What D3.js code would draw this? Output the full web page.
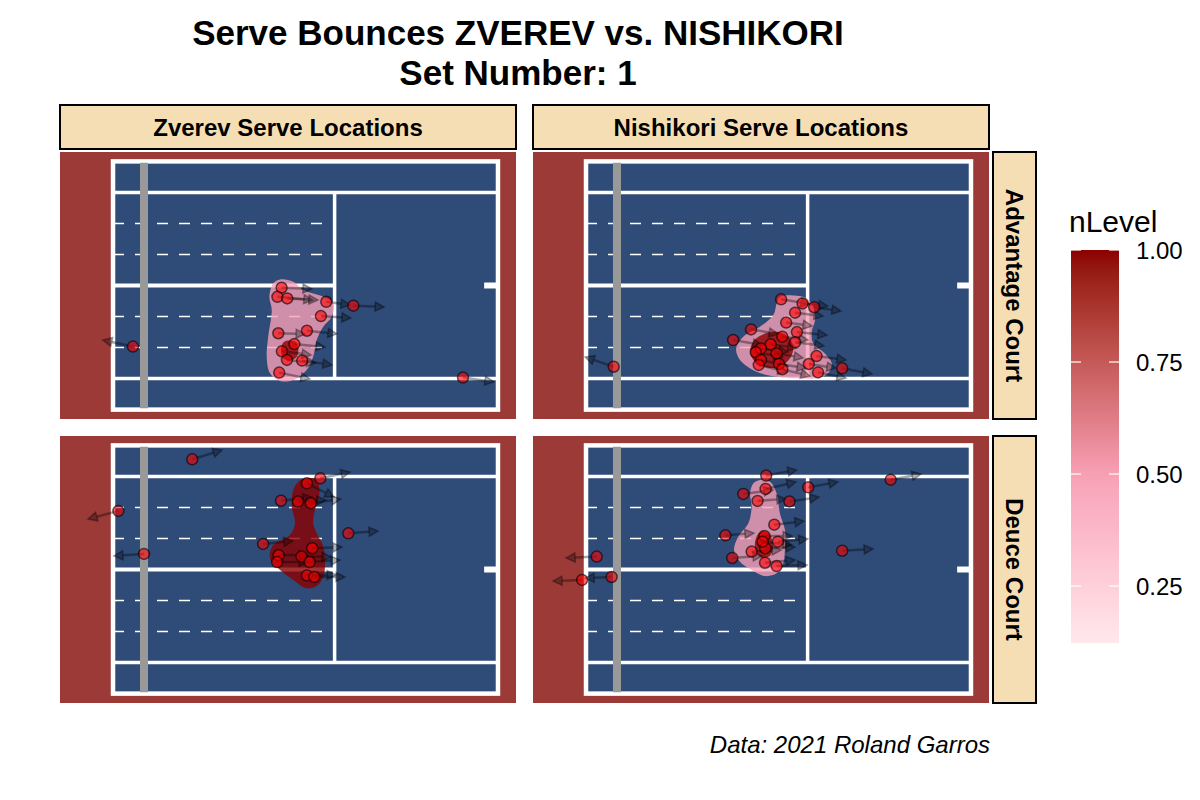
<!DOCTYPE html>
<html><head><meta charset="utf-8">
<script src="https://cdn.jsdelivr.net/npm/d3@7"></script>
<style>body{margin:0;background:#fff}</style>
</head><body>
<svg id="chart" width="1200" height="800"></svg>
<script>
// ---------------- DATA (metres; x = distance from net, y = across court) ----------------
const titleLines = ["Serve Bounces ZVEREV vs. NISHIKORI", "Set Number: 1"];
const caption = "Data: 2021 Roland Garros";
const colLabels = ["Zverev Serve Locations", "Nishikori Serve Locations"];
const rowLabels = ["Advantage Court", "Deuce Court"];
const legendTitle = "nLevel";
const legendTicks = [0.25, 0.50, 0.75, 1.00];
const nLevelRange = [0.123, 1.0];

// serve bounce points: [x, y, xAfter, yAfter]
const zverevAd = [
  [4.62,-0.10, 5.64,-0.15],[4.48,-0.50, 5.67,-0.64],[4.81,-0.57, 5.84,-0.64],
  [6.12,-0.72, 6.92,-0.86],[7.03,-0.89, 8.06,-0.95],[5.94,-1.35, 6.95,-1.44],
  [4.51,-2.11, 5.41,-2.14],[5.47,-2.00, 6.48,-2.14],[5.05,-2.59, 6.08,-2.72],
  [4.63,-2.91, 5.61,-3.07],[4.80,-3.29, 5.77,-3.43],[5.31,-3.32, 6.31,-3.51],
  [4.54,-3.85, 5.57,-4.13],[-0.37,-2.70,-1.38,-2.41],[10.71,-4.07,11.75,-4.26]
];
const nishikoriAd = [
  [5.51,-0.61, 6.48,-0.82],[6.23,-0.79, 7.08,-0.91],[6.62,-0.96, 7.52,-1.13],
  [5.98,-1.20, 6.92,-1.35],[5.68,-1.64, 6.55,-1.79],[4.50,-1.94, 5.41,-2.14],
  [6.04,-2.06, 7.05,-2.19],[3.90,-2.41, 4.87,-2.63],[5.55,-2.26, 6.41,-2.41],
  [5.98,-2.51, 6.95,-2.67],[5.16,-2.60, 6.04,-2.76],[4.83,-2.78, 5.74,-2.94],
  [4.66,-2.95, 5.57,-3.16],[5.36,-3.00, 6.25,-3.20],[4.83,-3.29, 5.74,-3.56],
  [4.76,-3.51, 5.71,-3.82],[5.44,-3.47, 6.35,-3.65],[5.55,-3.70, 6.48,-4.00],
  [6.70,-3.12, 7.69,-3.29],[6.44,-3.47, 7.35,-3.65],[6.75,-3.84, 7.69,-4.09],
  [7.56,-3.66, 8.56,-3.91],[-0.11,-3.59,-1.07,-3.16]
];
const zverevDeuce = [
  [1.62,4.87, 2.62,5.28],[5.92,4.03, 6.92,4.31],[5.47,3.81, 6.38,3.20],
  [4.60,3.04, 5.64,3.20],[5.17,3.00, 6.11,3.07],[5.60,2.93, 6.61,3.12],
  [-0.86,2.59,-1.88,2.23],[6.86,1.60, 7.86,1.70],[4.00,1.13, 5.00,1.26],
  [5.65,0.94, 6.65,0.99],[4.52,0.63, 5.51,0.64],[5.29,0.58, 6.28,0.55],
  [4.47,0.33, 5.51,0.33],[5.56,0.33, 6.58,0.42],[5.47,-0.26, 6.45,-0.24],
  [5.72,-0.33, 6.75,-0.33],[0.00,0.69,-1.01,0.60]
];
const nishikoriDeuce = [
  [5.01,4.15, 6.04,4.40],[4.99,3.56, 6.01,3.87],[4.24,3.34, 5.24,3.51],
  [6.42,3.63, 7.42,3.87],[4.72,3.03, 5.67,3.12],[5.79,3.01, 6.78,3.20],
  [9.19,3.97,10.21,4.22],[5.28,1.98, 6.28,2.14],[3.64,1.51, 4.60,1.61],
  [4.95,1.48, 5.88,1.48],[5.40,1.23, 6.41,1.35],[4.98,0.94, 5.98,0.99],
  [4.52,0.79, 5.51,0.86],[3.87,0.51, 4.87,0.60],[4.97,0.30, 5.98,0.42],
  [5.36,0.15, 6.38,0.20],[7.56,0.83, 8.60,0.91],[-0.68,0.57,-1.71,0.51],
  [-0.18,-0.33,-1.07,-0.38],[-1.17,-0.46,-2.15,-0.51],[4.89,1.23, 5.88,1.08]
];

// density contour outlines with their normalised level
const zverevAdContours = [
  {nlevel:0.5, path:[[4.57,0.27],[5.01,0.17],[5.35,-0.20],[6.02,-0.50],[6.36,-0.79],[6.30,-1.38],[6.02,-1.82],[5.80,-2.41],[5.68,-3.15],[5.46,-3.73],[5.01,-4.18],[4.57,-4.22],[4.23,-3.88],[4.12,-3.15],[4.17,-2.26],[4.29,-1.08],[4.21,-0.50],[4.34,0.10]]},
  {nlevel:1.0, path:[[4.79,-2.44],[5.07,-2.48],[5.18,-2.78],[5.13,-3.15],[4.90,-3.32],[4.68,-3.22],[4.60,-2.85],[4.66,-2.55]]}
];
const nishikoriAdContours = [
  {nlevel:0.5, path:[[5.47,-0.50],[6.03,-0.45],[6.37,-0.57],[6.59,-0.94],[6.65,-1.52],[6.54,-2.04],[6.59,-2.55],[6.98,-3.00],[7.21,-3.44],[7.09,-3.88],[6.70,-4.10],[6.03,-4.10],[5.36,-4.03],[4.69,-3.81],[4.13,-3.29],[4.00,-2.78],[4.24,-2.26],[4.80,-1.82],[5.25,-1.30],[5.36,-0.79]]},
  {nlevel:1.0, path:[[4.86,-2.19],[5.36,-2.04],[5.75,-2.26],[5.92,-2.70],[5.81,-3.22],[5.47,-3.59],[5.03,-3.62],[4.63,-3.37],[4.47,-2.93],[4.58,-2.48]]}
];
const zverevDeuceContours = [
  {nlevel:1.0, path:[[5.46,4.03],[5.80,3.96],[5.89,3.37],[5.74,2.63],[5.68,2.04],[5.80,1.60],[6.02,1.01],[6.08,0.27],[6.02,-0.32],[5.80,-0.73],[5.46,-0.83],[5.01,-0.46],[4.57,-0.02],[4.23,0.50],[4.34,1.08],[4.90,1.52],[5.07,2.04],[4.96,2.78],[5.01,3.51],[5.18,3.88]]}
];
const nishikoriDeuceContours = [
  {nlevel:0.5, path:[[4.80,3.96],[5.14,3.88],[5.36,3.37],[5.47,2.48],[5.64,1.75],[5.64,1.01],[5.58,0.27],[5.36,-0.17],[4.97,-0.29],[4.52,-0.02],[4.13,0.34],[3.93,0.86],[4.07,1.45],[4.41,2.04],[4.52,2.78],[4.47,3.37],[4.58,3.81]]},
  {nlevel:1.0, path:[[4.91,1.70],[5.14,1.52],[5.23,1.08],[5.16,0.64],[4.91,0.50],[4.69,0.72],[4.63,1.16],[4.74,1.57]]}
];

// court geometry (metres)
const courtBack = -1.04, baseline = 11.885, serviceLine = 6.40;
const doublesHalf = 5.485, singlesHalf = 4.115, netHalf = 5.42;
const laneLines = [1.372, 2.743, -1.372, -2.743];
const laneEnd = 6.14, centreMarkStart = 11.42;

// ---------------- LAYOUT ----------------
const colX = [60, 533], rowY = [152, 436], PW = 456, PH = 267;
const xDomain = [-2.82, 12.49], yDomain = [-5.9, 5.9];
const panels = [
  {r:0,c:0,pts:zverevAd,cont:zverevAdContours},
  {r:0,c:1,pts:nishikoriAd,cont:nishikoriAdContours},
  {r:1,c:0,pts:zverevDeuce,cont:zverevDeuceContours},
  {r:1,c:1,pts:nishikoriDeuce,cont:nishikoriDeuceContours}
];
const FONT = "'Liberation Sans', Arial, Helvetica, sans-serif";
const BG = "#9b3a37", COURT = "#2f4b77";

const fillScale = d3.scaleLinear().domain([0,0.5,1]).range(["white","#f8a0b6","darkred"]).interpolate(d3.interpolateLab);
const x = d3.scaleLinear().domain(xDomain).range([0, PW]);
const y = d3.scaleLinear().domain(yDomain).range([PH, 0]);

const svg = d3.select("#chart").style("font-family", FONT);
const defs = svg.append("defs");

// title
svg.append("text").attr("x",518).attr("y",45).attr("text-anchor","middle")
  .attr("font-size",35).attr("font-weight","bold").text(titleLines[0]);
svg.append("text").attr("x",518).attr("y",84.5).attr("text-anchor","middle")
  .attr("font-size",35).attr("font-weight","bold").text(titleLines[1]);

// column strips
colLabels.forEach((lab,i)=>{
  svg.append("rect").attr("x",colX[i]).attr("y",105).attr("width",PW).attr("height",44)
    .attr("fill","#f5deb3").attr("stroke","black").attr("stroke-width",2);
  svg.append("text").attr("x",colX[i]+PW/2).attr("y",136).attr("text-anchor","middle")
    .attr("font-size",24).attr("font-weight","bold").text(lab);
});
// row strips
rowLabels.forEach((lab,i)=>{
  svg.append("rect").attr("x",993).attr("y",rowY[i]).attr("width",43).attr("height",PH)
    .attr("fill","#f5deb3").attr("stroke","black").attr("stroke-width",2);
  svg.append("text").attr("transform",`translate(1014.5,${rowY[i]+PH/2}) rotate(90)`)
    .attr("text-anchor","middle").attr("dominant-baseline","central")
    .attr("font-size",24).attr("font-weight","bold").text(lab);
});

const line = d3.line().x(d=>x(d[0])).y(d=>y(d[1])).curve(d3.curveCatmullRomClosed.alpha(0.5));

panels.forEach((p,pi)=>{
  const g = svg.append("g").attr("transform",`translate(${colX[p.c]},${rowY[p.r]})`);
  defs.append("clipPath").attr("id","clip"+pi).append("rect").attr("width",PW).attr("height",PH);
  const gc = g.append("g").attr("clip-path",`url(#clip${pi})`);
  gc.append("rect").attr("width",PW).attr("height",PH).attr("fill",BG);
  // court
  gc.append("rect").attr("x",x(courtBack)).attr("y",y(doublesHalf))
    .attr("width",x(baseline)-x(courtBack)).attr("height",y(-doublesHalf)-y(doublesHalf))
    .attr("fill",COURT).attr("stroke","white").attr("stroke-width",4.5);
  [singlesHalf,-singlesHalf].forEach(s=>{
    gc.append("line").attr("x1",x(courtBack)).attr("x2",x(baseline)).attr("y1",y(s)).attr("y2",y(s))
      .attr("stroke","white").attr("stroke-width",3.5);
  });
  gc.append("line").attr("x1",x(serviceLine)).attr("x2",x(serviceLine)).attr("y1",y(singlesHalf)).attr("y2",y(-singlesHalf))
    .attr("stroke","white").attr("stroke-width",3.5);
  gc.append("line").attr("x1",x(courtBack)).attr("x2",x(serviceLine)).attr("y1",y(0)).attr("y2",y(0))
    .attr("stroke","white").attr("stroke-width",4);
  gc.append("line").attr("x1",x(centreMarkStart)).attr("x2",x(baseline)).attr("y1",y(0)).attr("y2",y(0))
    .attr("stroke","white").attr("stroke-width",6);
  laneLines.forEach(l=>{
    gc.append("line").attr("x1",x(courtBack)).attr("x2",x(laneEnd)).attr("y1",y(l)).attr("y2",y(l))
      .attr("stroke","white").attr("stroke-width",1.6).attr("stroke-dasharray","11,11");
  });
  gc.append("line").attr("x1",x(0)).attr("x2",x(0)).attr("y1",y(netHalf)).attr("y2",y(-netHalf))
    .attr("stroke","#999999").attr("stroke-width",8);
  // contours
  gc.selectAll("path.cont").data(p.cont).join("path").attr("class","cont")
    .attr("d",d=>line(d.path)).attr("fill",d=>fillScale(d.nlevel)).attr("fill-opacity",0.8);
  // arrows
  p.pts.forEach(d=>{
    const x1=x(d[0]), y1=y(d[1]), x2=x(d[2]), y2=y(d[3]);
    const ang=Math.atan2(y2-y1,x2-x1), L=9, W=4.5;
    const bx=x2-L*Math.cos(ang), by=y2-L*Math.sin(ang);
    gc.append("line").attr("x1",x1).attr("y1",y1).attr("x2",bx).attr("y2",by)
      .attr("stroke","black").attr("stroke-opacity",0.35).attr("stroke-width",2.5);
    const px=-Math.sin(ang)*W, py=Math.cos(ang)*W;
    gc.append("path").attr("d",`M${x2},${y2}L${bx+px},${by+py}L${bx-px},${by-py}Z`)
      .attr("fill","black").attr("fill-opacity",0.3).attr("stroke","black").attr("stroke-opacity",0.35)
      .attr("stroke-width",1.5).attr("stroke-linejoin","miter");
  });
  // points
  gc.selectAll("circle").data(p.pts).join("circle")
    .attr("cx",d=>x(d[0])).attr("cy",d=>y(d[1])).attr("r",5.5)
    .attr("fill","red").attr("fill-opacity",0.6)
    .attr("stroke","black").attr("stroke-opacity",0.6).attr("stroke-width",1.5);
});

// legend
const ly = d3.scaleLinear().domain(nLevelRange).range([643, 250]);
const grad = defs.append("linearGradient").attr("id","lg").attr("x1",0).attr("x2",0).attr("y1",1).attr("y2",0);
d3.range(0,21).forEach(i=>{
  const v = nLevelRange[0] + (nLevelRange[1]-nLevelRange[0])*i/20;
  grad.append("stop").attr("offset",(i/20*100)+"%").attr("stop-color",fillScale(v));
});
svg.append("text").attr("x",1069).attr("y",232).attr("font-size",30).text(legendTitle);
svg.append("rect").attr("x",1071).attr("y",ly(nLevelRange[1])).attr("width",48)
  .attr("height",ly(nLevelRange[0])-ly(nLevelRange[1])).attr("fill","url(#lg)");
legendTicks.forEach(t=>{
  [[1071,1081],[1109,1119]].forEach(s=>{
    svg.append("line").attr("x1",s[0]).attr("x2",s[1]).attr("y1",ly(t)).attr("y2",ly(t))
      .attr("stroke","white").attr("stroke-opacity",0.8).attr("stroke-width",1.5);
  });
  svg.append("text").attr("x",1136).attr("y",ly(t)).attr("dominant-baseline","central")
    .attr("font-size",24).text(d3.format(".2f")(t));
});

// caption
svg.append("text").attr("x",990).attr("y",753).attr("text-anchor","end")
  .attr("font-size",24).attr("font-style","italic").text(caption);
</script>
</body></html>
